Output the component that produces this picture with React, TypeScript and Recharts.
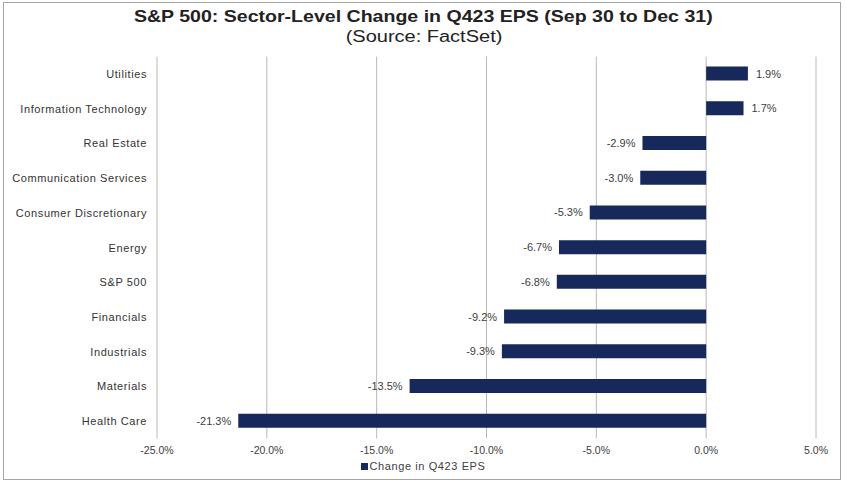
import React from 'react';
import { BarChart, Bar, XAxis, YAxis, CartesianGrid, LabelList } from 'recharts';

const sectors = [
  'Utilities',
  'Information Technology',
  'Real Estate',
  'Communication Services',
  'Consumer Discretionary',
  'Energy',
  'S&P 500',
  'Financials',
  'Industrials',
  'Materials',
  'Health Care',
];
const changes = [1.9, 1.7, -2.9, -3.0, -5.3, -6.7, -6.8, -9.2, -9.3, -13.5, -21.3];
const xTicks = [-25, -20, -15, -10, -5, 0, 5];

const data = sectors.map((name, i) => ({ name, value: changes[i] }));

const FONT = '"Liberation Sans", Arial, sans-serif';
const NAVY = '#17295A';

const renderLabel = (props: any) => {
  const { x, y, width, height, value } = props;
  const v = Number(value);
  const cy = y + height / 2;
  if (v >= 0) {
    return (
      <text x={x + width + 8} y={cy} dy={4} textAnchor="start" fontSize={11} fill="#404040" fontFamily={FONT}>
        {v.toFixed(1)}%
      </text>
    );
  }
  const left = Math.min(x, x + width);
  return (
    <text x={left - 7} y={cy} dy={4} textAnchor="end" fontSize={11} fill="#404040" fontFamily={FONT}>
      {v.toFixed(1)}%
    </text>
  );
};

const YTick = (props: any) => {
  const { x, y, payload } = props;
  return (
    <text x={x} y={y} dy={4} textAnchor="end" fontSize={11} fill="#333" fontFamily={FONT} letterSpacing={0.6}>
      {payload.value}
    </text>
  );
};

export default function App() {
  return (
    <div style={{ position: 'absolute', left: 0, top: 0, width: 846, height: 485, background: '#fff', fontFamily: FONT }}>
      <div
        style={{
          position: 'absolute',
          left: 3,
          top: 2,
          width: 838,
          height: 478,
          border: '1px solid #a6a6a6',
          boxSizing: 'border-box',
        }}
      />
      <div
        style={{
          position: 'absolute',
          left: 0,
          width: 846,
          top: 7,
          textAlign: 'center',
          fontSize: 17,
          fontWeight: 'bold',
          color: '#222',
          whiteSpace: 'nowrap',
          transform: 'scaleX(1.15)',
          transformOrigin: '421px 0',
        }}
      >
        S&amp;P 500: Sector-Level Change in Q423 EPS (Sep 30 to Dec 31)
      </div>
      <div
        style={{
          position: 'absolute',
          left: 0,
          width: 846,
          top: 28,
          textAlign: 'center',
          fontSize: 16,
          color: '#222',
          whiteSpace: 'nowrap',
          transform: 'scaleX(1.25)',
          transformOrigin: '419px 0',
        }}
      >
        (Source: FactSet)
      </div>
      <div style={{ position: 'absolute', left: 0, top: 0 }}>
        <BarChart
          width={846}
          height={485}
          data={data}
          layout="vertical"
          margin={{ top: 56.6, right: 30, bottom: 26.6, left: 0 }}
          barCategoryGap={0}
        >
          <CartesianGrid horizontal={false} vertical={true} stroke="#b8b8b8" strokeWidth={1} />
          <XAxis
            type="number"
            domain={[-25, 5]}
            ticks={xTicks}
            interval={0}
            axisLine={false}
            tickLine={false}
            height={20}
            tickMargin={2}
            tickFormatter={(v: number) => `${v.toFixed(1)}%`}
            tick={{ fontSize: 10.5, fill: '#404040', fontFamily: FONT }}
          />
          <YAxis
            type="category"
            dataKey="name"
            width={157}
            axisLine={false}
            tickLine={false}
            tickMargin={4}
            interval={0}
            tick={<YTick />}
          />
          <Bar dataKey="value" fill={NAVY} barSize={14} isAnimationActive={false}>
            <LabelList dataKey="value" content={renderLabel} />
          </Bar>
        </BarChart>
      </div>
      <div
        style={{
          position: 'absolute',
          left: 0,
          width: 846,
          top: 460,
          textAlign: 'center',
          fontSize: 11,
          color: '#404040',
          letterSpacing: 0.6,
          whiteSpace: 'nowrap',
        }}
      >
        <span style={{ display: 'inline-block', width: 7, height: 7, background: NAVY, marginRight: 2, verticalAlign: 'middle', position: 'relative', top: -1 }} />
        Change in Q423 EPS
      </div>
    </div>
  );
}
